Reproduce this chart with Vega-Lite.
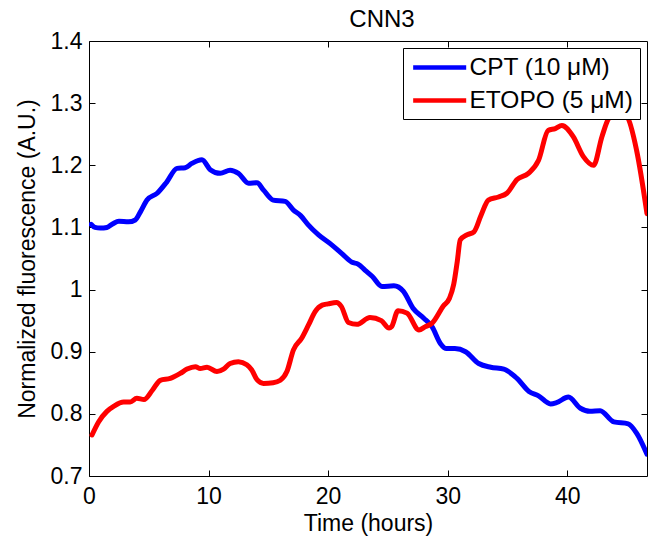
{
  "$schema": "https://vega.github.io/schema/vega-lite/v6.json",
  "width": 558,
  "height": 435,
  "autosize": "none",
  "padding": {"left": 89, "top": 41, "right": 6, "bottom": 64},
  "background": "white",
  "config": {
    "font": "Liberation Sans",
    "view": {"stroke": null},
    "axis": {"grid": false, "domainColor": "black", "domainWidth": 1, "tickColor": "black", "tickWidth": 1, "labelColor": "black", "titleColor": "black", "labelFontSize": 23, "titleFontSize": 23, "titleFontWeight": "normal", "labelFont": "Liberation Sans", "titleFont": "Liberation Sans"}
  },
  "title": {"text": "CNN3", "fontSize": 24, "fontWeight": "normal", "color": "black", "anchor": "middle", "frame": "group", "baseline": "alphabetic", "offset": -21, "dx": 14},
  "data": {"values": [
    {"t": 0.17, "v": 1.105, "s": "CPT (10 μM)"},
    {"t": 0.5, "v": 1.100, "s": "CPT (10 μM)"},
    {"t": 0.95, "v": 1.099, "s": "CPT (10 μM)"},
    {"t": 1.5, "v": 1.100, "s": "CPT (10 μM)"},
    {"t": 2.0, "v": 1.106, "s": "CPT (10 μM)"},
    {"t": 2.5, "v": 1.110, "s": "CPT (10 μM)"},
    {"t": 3.3, "v": 1.109, "s": "CPT (10 μM)"},
    {"t": 3.87, "v": 1.112, "s": "CPT (10 μM)"},
    {"t": 4.3, "v": 1.125, "s": "CPT (10 μM)"},
    {"t": 4.85, "v": 1.144, "s": "CPT (10 μM)"},
    {"t": 5.7, "v": 1.155, "s": "CPT (10 μM)"},
    {"t": 6.5, "v": 1.173, "s": "CPT (10 μM)"},
    {"t": 7.36, "v": 1.195, "s": "CPT (10 μM)"},
    {"t": 8.05, "v": 1.196, "s": "CPT (10 μM)"},
    {"t": 8.6, "v": 1.203, "s": "CPT (10 μM)"},
    {"t": 9.45, "v": 1.209, "s": "CPT (10 μM)"},
    {"t": 10.14, "v": 1.193, "s": "CPT (10 μM)"},
    {"t": 10.98, "v": 1.187, "s": "CPT (10 μM)"},
    {"t": 11.8, "v": 1.192, "s": "CPT (10 μM)"},
    {"t": 12.5, "v": 1.187, "s": "CPT (10 μM)"},
    {"t": 13.35, "v": 1.171, "s": "CPT (10 μM)"},
    {"t": 14.05, "v": 1.172, "s": "CPT (10 μM)"},
    {"t": 14.6, "v": 1.160, "s": "CPT (10 μM)"},
    {"t": 15.4, "v": 1.144, "s": "CPT (10 μM)"},
    {"t": 16.4, "v": 1.142, "s": "CPT (10 μM)"},
    {"t": 17.1, "v": 1.128, "s": "CPT (10 μM)"},
    {"t": 17.7, "v": 1.119, "s": "CPT (10 μM)"},
    {"t": 18.3, "v": 1.105, "s": "CPT (10 μM)"},
    {"t": 19.2, "v": 1.088, "s": "CPT (10 μM)"},
    {"t": 20.3, "v": 1.072, "s": "CPT (10 μM)"},
    {"t": 21.15, "v": 1.058, "s": "CPT (10 μM)"},
    {"t": 22.0, "v": 1.044, "s": "CPT (10 μM)"},
    {"t": 22.5, "v": 1.041, "s": "CPT (10 μM)"},
    {"t": 23.1, "v": 1.031, "s": "CPT (10 μM)"},
    {"t": 23.7, "v": 1.021, "s": "CPT (10 μM)"},
    {"t": 24.5, "v": 1.005, "s": "CPT (10 μM)"},
    {"t": 25.5, "v": 1.006, "s": "CPT (10 μM)"},
    {"t": 26.3, "v": 0.997, "s": "CPT (10 μM)"},
    {"t": 27.1, "v": 0.970, "s": "CPT (10 μM)"},
    {"t": 28.0, "v": 0.954, "s": "CPT (10 μM)"},
    {"t": 28.7, "v": 0.940, "s": "CPT (10 μM)"},
    {"t": 29.4, "v": 0.913, "s": "CPT (10 μM)"},
    {"t": 29.9, "v": 0.905, "s": "CPT (10 μM)"},
    {"t": 30.6, "v": 0.905, "s": "CPT (10 μM)"},
    {"t": 31.5, "v": 0.900, "s": "CPT (10 μM)"},
    {"t": 32.6, "v": 0.881, "s": "CPT (10 μM)"},
    {"t": 33.6, "v": 0.875, "s": "CPT (10 μM)"},
    {"t": 34.7, "v": 0.872, "s": "CPT (10 μM)"},
    {"t": 35.8, "v": 0.857, "s": "CPT (10 μM)"},
    {"t": 36.8, "v": 0.836, "s": "CPT (10 μM)"},
    {"t": 37.6, "v": 0.829, "s": "CPT (10 μM)"},
    {"t": 38.6, "v": 0.816, "s": "CPT (10 μM)"},
    {"t": 39.1, "v": 0.818, "s": "CPT (10 μM)"},
    {"t": 40.1, "v": 0.827, "s": "CPT (10 μM)"},
    {"t": 41.1, "v": 0.809, "s": "CPT (10 μM)"},
    {"t": 41.9, "v": 0.804, "s": "CPT (10 μM)"},
    {"t": 42.75, "v": 0.805, "s": "CPT (10 μM)"},
    {"t": 43.9, "v": 0.787, "s": "CPT (10 μM)"},
    {"t": 45.1, "v": 0.784, "s": "CPT (10 μM)"},
    {"t": 45.8, "v": 0.769, "s": "CPT (10 μM)"},
    {"t": 46.67, "v": 0.735, "s": "CPT (10 μM)"},
    {"t": 0.25, "v": 0.766, "s": "ETOPO (5 μM)"},
    {"t": 0.8, "v": 0.787, "s": "ETOPO (5 μM)"},
    {"t": 1.5, "v": 0.804, "s": "ETOPO (5 μM)"},
    {"t": 2.06, "v": 0.812, "s": "ETOPO (5 μM)"},
    {"t": 2.9, "v": 0.819, "s": "ETOPO (5 μM)"},
    {"t": 3.45, "v": 0.819, "s": "ETOPO (5 μM)"},
    {"t": 4.0, "v": 0.825, "s": "ETOPO (5 μM)"},
    {"t": 4.6, "v": 0.823, "s": "ETOPO (5 μM)"},
    {"t": 5.3, "v": 0.838, "s": "ETOPO (5 μM)"},
    {"t": 5.96, "v": 0.854, "s": "ETOPO (5 μM)"},
    {"t": 6.8, "v": 0.857, "s": "ETOPO (5 μM)"},
    {"t": 7.63, "v": 0.865, "s": "ETOPO (5 μM)"},
    {"t": 8.2, "v": 0.872, "s": "ETOPO (5 μM)"},
    {"t": 8.9, "v": 0.876, "s": "ETOPO (5 μM)"},
    {"t": 9.3, "v": 0.873, "s": "ETOPO (5 μM)"},
    {"t": 9.87, "v": 0.875, "s": "ETOPO (5 μM)"},
    {"t": 10.7, "v": 0.868, "s": "ETOPO (5 μM)"},
    {"t": 11.25, "v": 0.872, "s": "ETOPO (5 μM)"},
    {"t": 11.8, "v": 0.881, "s": "ETOPO (5 μM)"},
    {"t": 12.5, "v": 0.884, "s": "ETOPO (5 μM)"},
    {"t": 13.2, "v": 0.879, "s": "ETOPO (5 μM)"},
    {"t": 13.6, "v": 0.871, "s": "ETOPO (5 μM)"},
    {"t": 14.05, "v": 0.855, "s": "ETOPO (5 μM)"},
    {"t": 14.6, "v": 0.849, "s": "ETOPO (5 μM)"},
    {"t": 15.4, "v": 0.850, "s": "ETOPO (5 μM)"},
    {"t": 16.0, "v": 0.854, "s": "ETOPO (5 μM)"},
    {"t": 16.55, "v": 0.868, "s": "ETOPO (5 μM)"},
    {"t": 17.1, "v": 0.903, "s": "ETOPO (5 μM)"},
    {"t": 17.8, "v": 0.922, "s": "ETOPO (5 μM)"},
    {"t": 18.36, "v": 0.943, "s": "ETOPO (5 μM)"},
    {"t": 18.9, "v": 0.964, "s": "ETOPO (5 μM)"},
    {"t": 19.5, "v": 0.975, "s": "ETOPO (5 μM)"},
    {"t": 20.0, "v": 0.977, "s": "ETOPO (5 μM)"},
    {"t": 20.7, "v": 0.979, "s": "ETOPO (5 μM)"},
    {"t": 21.1, "v": 0.973, "s": "ETOPO (5 μM)"},
    {"t": 21.7, "v": 0.947, "s": "ETOPO (5 μM)"},
    {"t": 22.4, "v": 0.944, "s": "ETOPO (5 μM)"},
    {"t": 23.5, "v": 0.955, "s": "ETOPO (5 μM)"},
    {"t": 24.45, "v": 0.950, "s": "ETOPO (5 μM)"},
    {"t": 25.1, "v": 0.938, "s": "ETOPO (5 μM)"},
    {"t": 25.3, "v": 0.940, "s": "ETOPO (5 μM)"},
    {"t": 25.85, "v": 0.966, "s": "ETOPO (5 μM)"},
    {"t": 26.6, "v": 0.962, "s": "ETOPO (5 μM)"},
    {"t": 27.6, "v": 0.935, "s": "ETOPO (5 μM)"},
    {"t": 28.1, "v": 0.940, "s": "ETOPO (5 μM)"},
    {"t": 28.7, "v": 0.946, "s": "ETOPO (5 μM)"},
    {"t": 29.65, "v": 0.974, "s": "ETOPO (5 μM)"},
    {"t": 30.15, "v": 0.986, "s": "ETOPO (5 μM)"},
    {"t": 30.5, "v": 1.008, "s": "ETOPO (5 μM)"},
    {"t": 30.8, "v": 1.045, "s": "ETOPO (5 μM)"},
    {"t": 31.05, "v": 1.080, "s": "ETOPO (5 μM)"},
    {"t": 31.6, "v": 1.088, "s": "ETOPO (5 μM)"},
    {"t": 32.2, "v": 1.093, "s": "ETOPO (5 μM)"},
    {"t": 32.8, "v": 1.120, "s": "ETOPO (5 μM)"},
    {"t": 33.4, "v": 1.144, "s": "ETOPO (5 μM)"},
    {"t": 34.25, "v": 1.149, "s": "ETOPO (5 μM)"},
    {"t": 34.95, "v": 1.155, "s": "ETOPO (5 μM)"},
    {"t": 35.8, "v": 1.177, "s": "ETOPO (5 μM)"},
    {"t": 36.75, "v": 1.187, "s": "ETOPO (5 μM)"},
    {"t": 37.6, "v": 1.208, "s": "ETOPO (5 μM)"},
    {"t": 38.4, "v": 1.256, "s": "ETOPO (5 μM)"},
    {"t": 39.0, "v": 1.259, "s": "ETOPO (5 μM)"},
    {"t": 39.55, "v": 1.264, "s": "ETOPO (5 μM)"},
    {"t": 40.5, "v": 1.246, "s": "ETOPO (5 μM)"},
    {"t": 41.35, "v": 1.214, "s": "ETOPO (5 μM)"},
    {"t": 42.2, "v": 1.200, "s": "ETOPO (5 μM)"},
    {"t": 42.9, "v": 1.246, "s": "ETOPO (5 μM)"},
    {"t": 43.45, "v": 1.275, "s": "ETOPO (5 μM)"},
    {"t": 44.15, "v": 1.286, "s": "ETOPO (5 μM)"},
    {"t": 45.0, "v": 1.278, "s": "ETOPO (5 μM)"},
    {"t": 45.8, "v": 1.224, "s": "ETOPO (5 μM)"},
    {"t": 46.67, "v": 1.122, "s": "ETOPO (5 μM)"}
  ]},
  "layer": [
    {
      "mark": {"type": "line", "strokeWidth": 5, "strokeJoin": "round", "strokeCap": "round", "interpolate": "monotone", "clip": true},
      "encoding": {
        "x": {"field": "t", "type": "quantitative", "scale": {"domain": [0, 46.67], "nice": false, "zero": false},
              "axis": {"orient": "bottom", "values": [0, 10, 20, 30, 40], "title": "Time (hours)", "tickSize": -6, "labelPadding": 15, "titlePadding": 4, "labelFlush": false}},
        "y": {"field": "v", "type": "quantitative", "scale": {"domain": [0.7, 1.4], "nice": false, "zero": false},
              "axis": {"orient": "left", "values": [0.7, 0.8, 0.9, 1.0, 1.1, 1.2, 1.3, 1.4], "format": ".1~f", "title": "Normalized fluorescence (A.U.)", "tickSize": -6, "labelPadding": 13, "titlePadding": 11}},
        "color": {"field": "s", "type": "nominal", "sort": ["CPT (10 μM)", "ETOPO (5 μM)"],
                  "scale": {"domain": ["CPT (10 μM)", "ETOPO (5 μM)"], "range": ["#0000ff", "#ff0000"]},
                  "legend": {"title": null, "orient": "top-right", "offset": 7, "strokeColor": "black", "fillColor": "white", "padding": 6.5,
                             "labelFontSize": 24.5, "labelLimit": 400, "labelColor": "black", "labelFont": "Liberation Sans", "symbolType": "M-0.88,0H4.12", "symbolSize": 450,
                             "symbolStrokeWidth": 4.5, "labelOffset": 34, "rowPadding": 8}}
      }
    },
    {
      "mark": {"type": "line", "opacity": 0},
      "encoding": {
        "x": {"field": "t", "type": "quantitative",
              "axis": {"orient": "top", "values": [10, 20, 30, 40], "labels": false, "title": null, "tickSize": -6}},
        "y": {"field": "v", "type": "quantitative",
              "axis": {"orient": "right", "values": [0.8, 0.9, 1.0, 1.1, 1.2, 1.3], "labels": false, "title": null, "tickSize": -6}},
        "detail": {"field": "s", "type": "nominal"}
      }
    }
  ],
  "resolve": {"axis": {"x": "independent", "y": "independent"}}
}
